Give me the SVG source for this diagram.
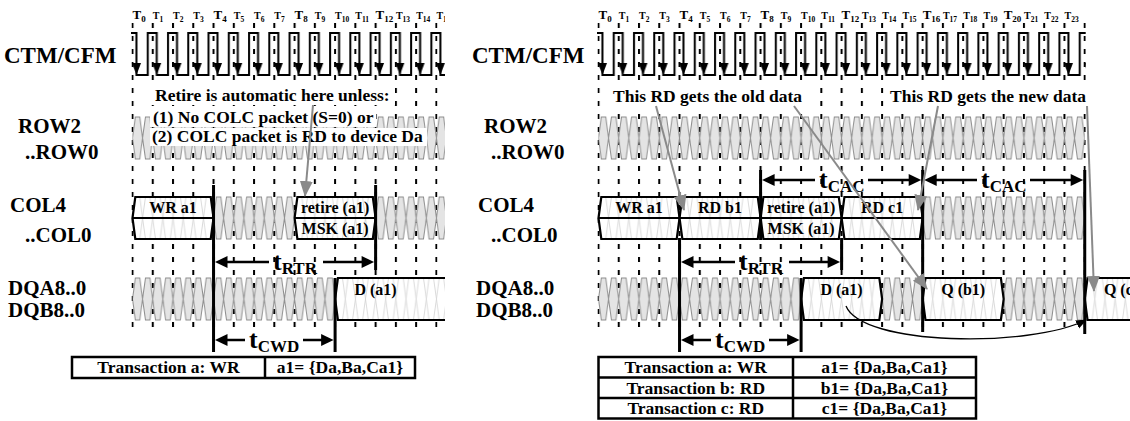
<svg xmlns="http://www.w3.org/2000/svg" width="1130" height="421" viewBox="0 0 1130 421">
<style>
text{font-family:"Liberation Serif","Times New Roman",serif;font-weight:bold;fill:#000}
.lbl{font-size:21px}
.lbl2{font-size:23px}
.lbl3{font-size:21px}
.hb{font-size:13px}.hbs{font-size:9px}
.hs{font-size:10px}.hss{font-size:7.5px}
.bx{font-size:16px;text-anchor:middle}
.ann{font-size:17.5px}
.annr{font-size:17.5px}
.tbl{font-size:17.5px;text-anchor:middle}
.dim{font-size:26px}.dsub{font-size:17px}
.box{fill:url(#faint);stroke:#000;stroke-width:2.2}
.div{stroke:#000;stroke-width:2.2;fill:none}
.heavy{stroke:#000;stroke-width:3;fill:none}
.dl{stroke:#000;stroke-width:2.5;fill:none}
.ptr{stroke:#8a8a8a;stroke-width:2;fill:none;marker-end:url(#ga)}
.wb{fill:#fff}
.tb{fill:none;stroke:#000;stroke-width:2.5}
.eye{fill:url(#eye)}
</style>
<defs>
<pattern id="grid" patternUnits="userSpaceOnUse" x="131.5" y="23" width="20.26" height="13"><rect x="0" y="0" width="2" height="5" fill="#000"/></pattern>
<pattern id="clk" patternUnits="userSpaceOnUse" x="124.5" y="0" width="20.26" height="421">
<path d="M-1,75H3V33H12V75H21.3" fill="none" stroke="#000" stroke-width="2"/>
<path d="M7.5,63H16.5L12,75Z" fill="#000"/>
</pattern>
<pattern id="eye" patternUnits="userSpaceOnUse" x="127.435" y="0" width="10.13" height="421">
<path fill="#e4e4e4" d="M0,117H2.265L5.065,138L2.265,159H0Z M10.13,117H7.865L5.065,138L7.865,159H10.13Z M0,197H2.265L5.065,218L2.265,239H0Z M10.13,197H7.865L5.065,218L7.865,239H10.13Z M0,278H2.265L5.065,299L2.265,320H0Z M10.13,278H7.865L5.065,299L7.865,320H10.13Z"/>
<path fill="none" stroke="#8e8e8e" stroke-width="1" d="M-1,117H2.265L5.065,138L2.265,159H-1 M11.13,117H7.865L5.065,138L7.865,159H11.13 M-1,197H2.265L5.065,218L2.265,239H-1 M11.13,197H7.865L5.065,218L7.865,239H11.13 M-1,278H2.265L5.065,299L2.265,320H-1 M11.13,278H7.865L5.065,299L7.865,320H11.13"/>
</pattern>
<pattern id="faint" patternUnits="userSpaceOnUse" x="127.435" y="0" width="10.13" height="421">
<rect x="0" y="0" width="10.13" height="421" fill="#fff"/>
<path fill="none" stroke="#d0d0d0" stroke-width="0.8" d="M2.265,197L5.065,218L2.265,239M7.865,197L5.065,218L7.865,239M2.265,278L5.065,299L2.265,320M7.865,278L5.065,299L7.865,320"/>
</pattern>
<marker id="ga" markerUnits="userSpaceOnUse" markerWidth="17" markerHeight="14" refX="15" refY="6.5" orient="auto"><path d="M0,0L16,6.5L0,13Z" fill="#8a8a8a"/></marker>
<marker id="ba" markerUnits="userSpaceOnUse" markerWidth="12" markerHeight="10" refX="10" refY="4.5" orient="auto"><path d="M0,0L11,4.5L0,9Z" fill="#000"/></marker>
<clipPath id="clipL"><rect x="0" y="0" width="445" height="421"/></clipPath>
</defs>
<rect x="0" y="0" width="1130" height="421" fill="#fff"/>

<g id="left-diagram">
<g id="left-signals" clip-path="url(#clipL)">
<g id="left-header">
<text class="hb" x="132.5" y="19">T<tspan class="hbs" dy="2.5">0</tspan></text>
<text class="hs" x="152.76" y="19">T<tspan class="hss" dy="2.5">1</tspan></text>
<text class="hs" x="173.02" y="19">T<tspan class="hss" dy="2.5">2</tspan></text>
<text class="hs" x="193.28" y="19">T<tspan class="hss" dy="2.5">3</tspan></text>
<text class="hb" x="213.54" y="19">T<tspan class="hbs" dy="2.5">4</tspan></text>
<text class="hs" x="233.8" y="19">T<tspan class="hss" dy="2.5">5</tspan></text>
<text class="hs" x="254.06" y="19">T<tspan class="hss" dy="2.5">6</tspan></text>
<text class="hs" x="274.32" y="19">T<tspan class="hss" dy="2.5">7</tspan></text>
<text class="hb" x="294.58" y="19">T<tspan class="hbs" dy="2.5">8</tspan></text>
<text class="hs" x="314.84" y="19">T<tspan class="hss" dy="2.5">9</tspan></text>
<text class="hs" x="335.1" y="19">T<tspan class="hss" dy="2.5">10</tspan></text>
<text class="hs" x="355.36" y="19">T<tspan class="hss" dy="2.5">11</tspan></text>
<text class="hb" x="375.62" y="19">T<tspan class="hbs" dy="2.5">12</tspan></text>
<text class="hs" x="395.88" y="19">T<tspan class="hss" dy="2.5">13</tspan></text>
<text class="hs" x="416.14" y="19">T<tspan class="hss" dy="2.5">14</tspan></text>
<text class="hs" x="436.4" y="19">T<tspan class="hss" dy="2.5">15</tspan></text>
</g>
<rect id="left-grid" x="131.5" y="23" width="306" height="307" fill="url(#grid)"/>
<rect id="left-clock" x="131" y="31" width="314" height="46" fill="url(#clk)"/>
<g id="left-bus">
<rect class="eye" x="132.5" y="116" width="312.5" height="44"/>
<rect class="eye" x="213.54" y="196" width="81.04" height="44"/>
<rect class="eye" x="375.62" y="196" width="69.38" height="44"/>
<rect class="eye" x="132.5" y="277" width="202.6" height="44"/>
</g>
<g id="left-packets">
<polygon class="box" points="132.5,218 135.3,197 210.74,197 213.54,218 210.74,239 135.3,239"/>
<polygon class="box" points="294.58,218 297.38,197 372.82,197 375.62,218 372.82,239 297.38,239"/>
<polygon class="box" points="335.1,299 337.9,278 460,278 460,320 337.9,320"/>
<path class="div" d="M132.5,218H213.54M294.58,218H375.62"/>
<text class="bx" x="173" y="213">WR a1</text>
<text class="bx" x="335.1" y="213">retire (a1)</text>
<text class="bx" x="335.1" y="234">MSK (a1)</text>
<text class="bx" x="375.6" y="295">D (a1)</text>
</g>
<g id="left-note">
<rect class="wb" x="150" y="86" width="245" height="19"/>
<rect class="wb" x="150" y="107" width="226" height="20"/>
<rect class="wb" x="150" y="128" width="277" height="18"/>
<text class="ann" x="155" y="101">Retire is automatic here unless:</text>
<text class="ann" x="153" y="123">(1) No COLC packet (S=0) or</text>
<text class="ann" x="152" y="142">(2) COLC packet is RD to device Da</text>
</g>
</g>
<g id="left-labels">
<text class="lbl2" x="4" y="63">CTM/CFM</text>
<text class="lbl" x="18" y="133">ROW2</text>
<text class="lbl" x="25" y="159">..ROW0</text>
<text class="lbl" x="10" y="212">COL4</text>
<text class="lbl" x="25" y="242">..COL0</text>
<text class="lbl3" x="8" y="295">DQA8..0</text>
<text class="lbl3" x="8" y="317">DQB8..0</text>
</g>
<g id="left-timing">
<path class="heavy" d="M213.54,185V352M375.62,185V270M335.1,278V352"/>
<polygon points="215,262 227.5,256 227.5,268"/>
<polygon points="374.1,262 361.6,256 361.6,268"/>
<path class="dl" d="M226,262H269M323,262H363"/>
<text class="dim" x="273" y="270">t<tspan class="dsub" dy="4">RTR</tspan></text>
<polygon points="215,340 227.5,334 227.5,346"/>
<polygon points="333.6,340 321.1,334 321.1,346"/>
<path class="dl" d="M226,340H245M303,340H323"/>
<text class="dim" x="249" y="348">t<tspan class="dsub" dy="4">CWD</tspan></text>
</g>
<g id="left-table">
<rect class="tb" x="72" y="357" width="343" height="21"/>
<path class="tb" d="M265,357V378"/>
<text class="tbl" x="168.5" y="373">Transaction a: WR</text>
<text class="tbl" x="340" y="373">a1= {Da,Ba,Ca1}</text>
</g>
</g>

<g id="right-diagram">
<g id="right-header">
<text class="hb" x="598.5" y="19">T<tspan class="hbs" dy="2.5">0</tspan></text>
<text class="hs" x="618.76" y="19">T<tspan class="hss" dy="2.5">1</tspan></text>
<text class="hs" x="639.02" y="19">T<tspan class="hss" dy="2.5">2</tspan></text>
<text class="hs" x="659.28" y="19">T<tspan class="hss" dy="2.5">3</tspan></text>
<text class="hb" x="679.54" y="19">T<tspan class="hbs" dy="2.5">4</tspan></text>
<text class="hs" x="699.8" y="19">T<tspan class="hss" dy="2.5">5</tspan></text>
<text class="hs" x="720.06" y="19">T<tspan class="hss" dy="2.5">6</tspan></text>
<text class="hs" x="740.32" y="19">T<tspan class="hss" dy="2.5">7</tspan></text>
<text class="hb" x="760.58" y="19">T<tspan class="hbs" dy="2.5">8</tspan></text>
<text class="hs" x="780.84" y="19">T<tspan class="hss" dy="2.5">9</tspan></text>
<text class="hs" x="801.1" y="19">T<tspan class="hss" dy="2.5">10</tspan></text>
<text class="hs" x="821.36" y="19">T<tspan class="hss" dy="2.5">11</tspan></text>
<text class="hb" x="841.62" y="19">T<tspan class="hbs" dy="2.5">12</tspan></text>
<text class="hs" x="861.88" y="19">T<tspan class="hss" dy="2.5">13</tspan></text>
<text class="hs" x="882.14" y="19">T<tspan class="hss" dy="2.5">14</tspan></text>
<text class="hs" x="902.4" y="19">T<tspan class="hss" dy="2.5">15</tspan></text>
<text class="hb" x="922.66" y="19">T<tspan class="hbs" dy="2.5">16</tspan></text>
<text class="hs" x="942.92" y="19">T<tspan class="hss" dy="2.5">17</tspan></text>
<text class="hs" x="963.18" y="19">T<tspan class="hss" dy="2.5">18</tspan></text>
<text class="hs" x="983.44" y="19">T<tspan class="hss" dy="2.5">19</tspan></text>
<text class="hb" x="1003.7" y="19">T<tspan class="hbs" dy="2.5">20</tspan></text>
<text class="hs" x="1023.96" y="19">T<tspan class="hss" dy="2.5">21</tspan></text>
<text class="hs" x="1044.22" y="19">T<tspan class="hss" dy="2.5">22</tspan></text>
<text class="hs" x="1064.48" y="19">T<tspan class="hss" dy="2.5">23</tspan></text>
</g>
<rect id="right-grid" x="597.5" y="23" width="488.3" height="307" fill="url(#grid)"/>
<rect id="right-clock" x="597" y="31" width="488.7" height="46" fill="url(#clk)"/>
<g id="right-bus">
<rect class="eye" x="598.5" y="116" width="486.24" height="44"/>
<rect class="eye" x="922.66" y="196" width="162.08" height="44"/>
<rect class="eye" x="598.5" y="277" width="202.6" height="44"/>
<rect class="eye" x="882.14" y="277" width="40.52" height="44"/>
<rect class="eye" x="1003.7" y="277" width="81.04" height="44"/>
</g>
<g id="right-packets">
<polygon class="box" points="598.5,218 601.3,197 676.74,197 679.54,218 676.74,239 601.3,239"/>
<polygon class="box" points="679.54,218 682.34,197 757.78,197 760.58,218 757.78,239 682.34,239"/>
<polygon class="box" points="760.58,218 763.38,197 838.82,197 841.62,218 838.82,239 763.38,239"/>
<polygon class="box" points="841.62,218 844.42,197 919.86,197 922.66,218 919.86,239 844.42,239"/>
<polygon class="box" points="801.1,299 803.9,278 879.34,278 882.14,299 879.34,320 803.9,320"/>
<polygon class="box" points="922.66,299 925.46,278 1000.9,278 1003.7,299 1000.9,320 925.46,320"/>
<polygon class="box" points="1084.74,299 1087.54,278 1140,278 1140,320 1087.54,320"/>
<path class="div" d="M598.5,218H922.66"/>
<text class="bx" x="639" y="213">WR a1</text>
<text class="bx" x="720" y="213">RD b1</text>
<text class="bx" x="801.1" y="213">retire (a1)</text>
<text class="bx" x="801.1" y="234">MSK (a1)</text>
<text class="bx" x="882.1" y="213">RD c1</text>
<text class="bx" x="841.6" y="295">D (a1)</text>
<text class="bx" x="963.2" y="295">Q (b1)</text>
<text class="bx" x="1125" y="295">Q (c1)</text>
</g>
<g id="right-labels">
<text class="lbl2" x="472" y="63">CTM/CFM</text>
<text class="lbl" x="484" y="133">ROW2</text>
<text class="lbl" x="491" y="159">..ROW0</text>
<text class="lbl" x="478" y="212">COL4</text>
<text class="lbl" x="491" y="242">..COL0</text>
<text class="lbl3" x="476" y="295">DQA8..0</text>
<text class="lbl3" x="476" y="317">DQB8..0</text>
</g>
<g id="right-timing">
<path class="heavy" d="M679.54,238V352M760.58,170V240M841.62,238V270M801.1,278V352M922.66,170V332M1084.74,170V334"/>
<polygon points="762.1,180 774.6,174 774.6,186"/>
<polygon points="921.2,180 908.7,174 908.7,186"/>
<path class="dl" d="M773,180H815M868,180H910"/>
<text class="dim" x="819" y="188">t<tspan class="dsub" dy="4">CAC</tspan></text>
<polygon points="924.2,180 936.7,174 936.7,186"/>
<polygon points="1083.2,180 1070.7,174 1070.7,186"/>
<path class="dl" d="M935,180H977M1030,180H1072"/>
<text class="dim" x="981" y="188">t<tspan class="dsub" dy="4">CAC</tspan></text>
<polygon points="681,262 693.5,256 693.5,268"/>
<polygon points="840.1,262 827.6,256 827.6,268"/>
<path class="dl" d="M692,262H735M789,262H829"/>
<text class="dim" x="739" y="270">t<tspan class="dsub" dy="4">RTR</tspan></text>
<polygon points="681,340 693.5,334 693.5,346"/>
<polygon points="799.6,340 787.1,334 787.1,346"/>
<path class="dl" d="M692,340H711M769,340H789"/>
<text class="dim" x="715" y="348">t<tspan class="dsub" dy="4">CWD</tspan></text>
</g>
<g id="right-notes">
<rect class="wb" x="610" y="86" width="195" height="20"/>
<rect class="wb" x="887" y="86" width="200" height="20"/>
<text class="annr" x="613" y="102">This RD gets the old data</text>
<text class="annr" x="1086" y="102" text-anchor="end">This RD gets the new data</text>
</g>
<g id="right-table">
<rect class="tb" x="598.5" y="357" width="377.5" height="61.5"/>
<path class="tb" d="M598.5,377.5H976M598.5,398H976M793,357V418.5"/>
<text class="tbl" x="695.75" y="373">Transaction a: WR</text>
<text class="tbl" x="695.75" y="393.5">Transaction b: RD</text>
<text class="tbl" x="695.75" y="414">Transaction c: RD</text>
<text class="tbl" x="884.5" y="373">a1= {Da,Ba,Ca1}</text>
<text class="tbl" x="884.5" y="393.5">b1= {Da,Ba,Ca1}</text>
<text class="tbl" x="884.5" y="414">c1= {Da,Ba,Ca1}</text>
</g>
</g>

<g id="connectors">
<path class="ptr" d="M313,105L305,196"/>
<path class="ptr" d="M656,106L684,210"/>
<path class="ptr" d="M794,106L927,289"/>
<path class="ptr" d="M938,106L918,210"/>
<path class="ptr" d="M1087,106L1094,291"/>
<path d="M846,306C862,346 1030,348 1086,320" fill="none" stroke="#000" stroke-width="1.3" marker-end="url(#ba)"/>
</g>
</svg>
